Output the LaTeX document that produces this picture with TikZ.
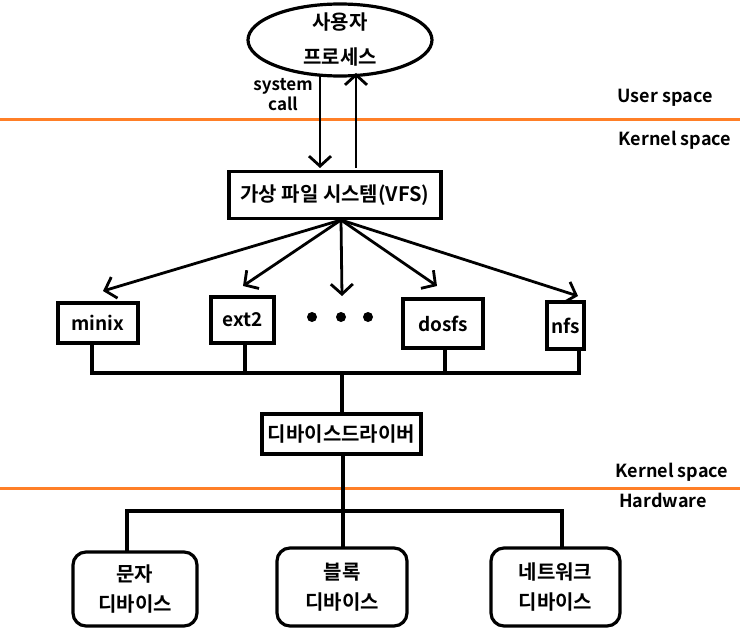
\documentclass[tikz,border=0pt]{standalone}
\usepackage{fontspec}
\setmainfont{Noto Sans CJK KR}[BoldFont={Noto Sans CJK KR Bold}]
\usetikzlibrary{arrows.meta,shapes.geometric}
\definecolor{sep}{RGB}{255,127,39}
\begin{document}
\begin{tikzpicture}[x=1pt,y=-1pt,
  ln/.style={line width=3.2pt,line cap=rect},
  arr/.style={line width=2.8pt,-{Straight Barb[length=10pt,width=22pt]}},
  box/.style={draw,line width=3.2pt,rectangle,inner sep=0pt,font=\fontsize{19}{21}\selectfont\bfseries},
  dev/.style={draw,line width=3.2pt,rectangle,rounded corners=13pt,inner sep=0pt,align=center,font=\fontsize{20}{30}\selectfont\bfseries},
  lbl/.style={font=\fontsize{18}{20}\selectfont\bfseries},
  dot/.style={circle,fill,inner sep=0pt,minimum size=10pt}]
\useasboundingbox (0,0) rectangle (740,634);
% separators
\draw[sep,line width=3pt] (0,120) -- (740,120);
\draw[sep,line width=3pt] (0,488) -- (740,488);
\node[lbl] (us) at (665,98) {User space};
\node[lbl] (ks1) at (675,140) {Kernel space};
\node[lbl] (ks2) at (672,472) {Kernel space};
\node[lbl] (hw) at (663,500) {Hardware};
% user process
\node[draw,ellipse,line width=3.2pt,minimum width=184pt,minimum height=72pt,inner sep=0pt] (up) at (340,40) {};
\node[font=\fontsize{20}{22}\selectfont\bfseries] (up1) at (340,22) {사용자};
\node[font=\fontsize{20}{22}\selectfont\bfseries] (up2) at (340,57) {프로세스};
\node[align=center,font=\fontsize{17}{20}\selectfont\bfseries] (sc) at (283,95) {system\\call};
% VFS
\node[box,minimum width=212pt,minimum height=47pt,font=\fontsize{20}{22}\selectfont\bfseries] (vfs) at (335,195) {가상 파일 시스템(VFS)};
\coordinate (d0) at (320,76);
\coordinate (d1) at (320,168);
\coordinate (u0) at (356,168);
\coordinate (u1) at (356,73);
\draw[arr] (d0) -- (d1);
\draw[arr] (u0) -- (u1);
% file systems
\node[box,minimum width=80pt,minimum height=40pt] (minix) at (98,323) {minix};
\node[box,minimum width=63pt,minimum height=46pt] (ext2) at (242.5,320) {ext2};
\node[box,minimum width=80pt,minimum height=49pt] (dosfs) at (443,323.5) {dosfs};
\node[box,minimum width=37pt,minimum height=47pt] (nfs) at (565.5,325.5) {nfs};
\node[dot] (p1) at (312,317) {};
\node[dot] (p2) at (341,317) {};
\node[dot] (p3) at (368,317) {};
\coordinate (src) at (341,220);
\coordinate (t1) at (103,291);
\coordinate (t2) at (243,286);
\coordinate (t3) at (342,296);
\coordinate (t4) at (437,286);
\coordinate (t5) at (578,296);
\foreach \t in {t1,t2,t3,t4,t5} \draw[arr] (src) -- (\t);
% bus
\coordinate (b1) at (92,373);
\coordinate (b2) at (245,373);
\coordinate (b3) at (342,373);
\coordinate (b4) at (445,373);
\coordinate (b5) at (579,373);
\draw[ln] (b1) -- (b5);
\draw[ln] (minix.south -| b1) -- (b1);
\draw[ln] (ext2.south -| b2) -- (b2);
\draw[ln] (dosfs.south -| b4) -- (b4);
\draw[ln] (nfs.south -| b5) -- (b5);
% driver
\node[box,minimum width=159pt,minimum height=40pt,font=\fontsize{20}{22}\selectfont\bfseries] (drv) at (341.5,434) {디바이스드라이버};
\draw[ln] (b3) -- (drv.north -| b3);
% hardware
\coordinate (h1) at (127,511);
\coordinate (h2) at (343,511);
\coordinate (h3) at (562,511);
\draw[ln] (drv.south -| h2) -- (h2);
\draw[ln] (h1) -- (h3);
\node[dev,minimum width=124pt,minimum height=74pt] (cd) at (135,589) {문자\\디바이스};
\node[dev,minimum width=130pt,minimum height=78pt] (bd) at (342,587) {블록\\디바이스};
\node[dev,minimum width=129pt,minimum height=78pt] (nd) at (555.5,587) {네트워크\\디바이스};
\draw[ln] (h1) -- (cd.north -| h1);
\draw[ln] (h2) -- (bd.north -| h2);
\draw[ln] (h3) -- (nd.north -| h3);
\end{tikzpicture}
\end{document}
